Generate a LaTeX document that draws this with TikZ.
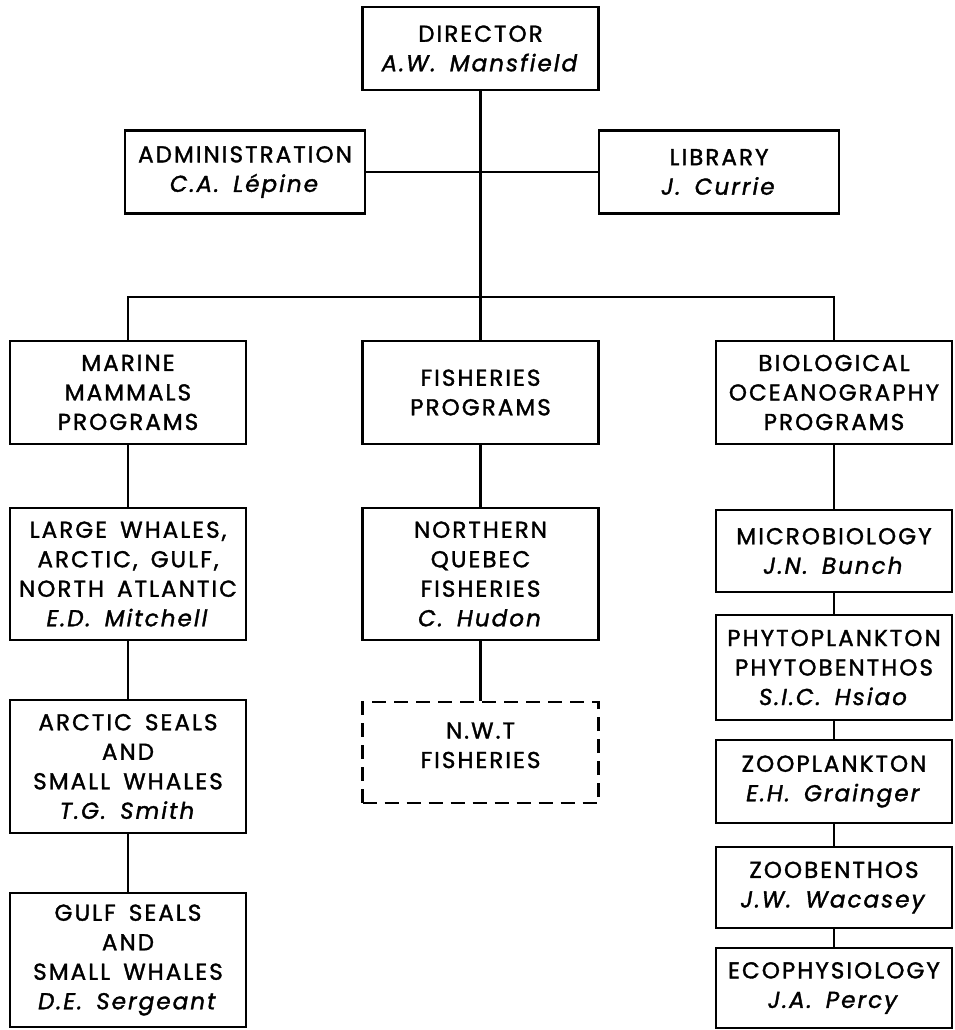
\documentclass[tikz,border=0pt]{standalone}
\usepackage{fontspec}
\setmainfont{Poppins}[LetterSpace=9,WordSpace=1.6,FakeBold=1.5]

\begin{document}
\begin{tikzpicture}[x=1pt,y=-1pt,line width=2.9pt,
        box/.style={draw,line width=2.9pt,align=center,inner sep=2pt,
            minimum width=236pt,font=\fontsize{23}{29.5}\selectfont},
        planbox/.style={box,dash pattern=on 14pt off 8pt}]
    \useasboundingbox (0,0) rectangle (955,1030);
    % top of the chart
    \node[box,minimum height=83pt] (dir) at (480.5,48.5) {DIRECTOR\\\textit{A.W. Mansfield}};
    \node[box,minimum width=240pt,minimum height=83pt] (adm) at (245,172) {ADMINISTRATION\\\textit{C.A. Lépine}};
    \node[box,minimum width=240pt,minimum height=83pt] (lib) at (719,172) {LIBRARY\\\textit{J. Currie}};
    \coordinate (bus) at (480.5,297);
    % programs
    \node[box,minimum height=103pt] (mar) at (128,392.5) {MARINE\\MAMMALS\\PROGRAMS};
    \node[box,minimum height=103pt] (fish) at (480.5,392.5) {FISHERIES\\PROGRAMS};
    \node[box,minimum height=103pt] (bio) at (834,392.5) {BIOLOGICAL\\OCEANOGRAPHY\\PROGRAMS};
    % marine mammals
    \node[box,minimum height=132pt] (lw) at (128,574) {LARGE WHALES,\\ARCTIC, GULF,\\NORTH ATLANTIC\\\textit{E.D. Mitchell}};
    \node[box,minimum height=133pt] (arc) at (128,766.5) {ARCTIC SEALS\\AND\\SMALL WHALES\\\textit{T.G. Smith}};
    \node[box,minimum height=134pt] (gulf) at (128,960) {GULF SEALS\\AND\\SMALL WHALES\\\textit{D.E. Sergeant}};
    % fisheries
    \node[box,minimum height=132pt] (nq) at (480.5,574) {NORTHERN\\QUEBEC\\FISHERIES\\\textit{C. Hudon}};
    \node[planbox,minimum height=101pt] (nwt) at (480.5,752.5) {N.W.T\\FISHERIES\\[-15pt]};
    % biological oceanography
    \node[box,minimum height=82pt] (mic) at (834,551) {MICROBIOLOGY\\\textit{J.N. Bunch}};
    \node[box,minimum height=105pt] (phy) at (834,667.5) {PHYTOPLANKTON\\PHYTOBENTHOS\\\textit{S.I.C. Hsiao}};
    \node[box,minimum height=83pt] (zoo) at (834,781.5) {ZOOPLANKTON\\\textit{E.H. Grainger}};
    \node[box,minimum height=81pt] (zob) at (834,887.5) {ZOOBENTHOS\\\textit{J.W. Wacasey}};
    \node[box,minimum height=80pt] (eco) at (834,988) {ECOPHYSIOLOGY\\\textit{J.A. Percy}};

    \draw (dir.south) -- (fish.north);
    \draw (adm.east) -- (lib.west);
    \draw (mar.north) |- (bus) -| (bio.north);
    \draw (mar) -- (lw) -- (arc) -- (gulf);
    \draw (fish) -- (nq) -- (nwt);
    \draw (bio) -- (mic) -- (phy) -- (zoo) -- (zob) -- (eco);
\end{tikzpicture}
\end{document}
